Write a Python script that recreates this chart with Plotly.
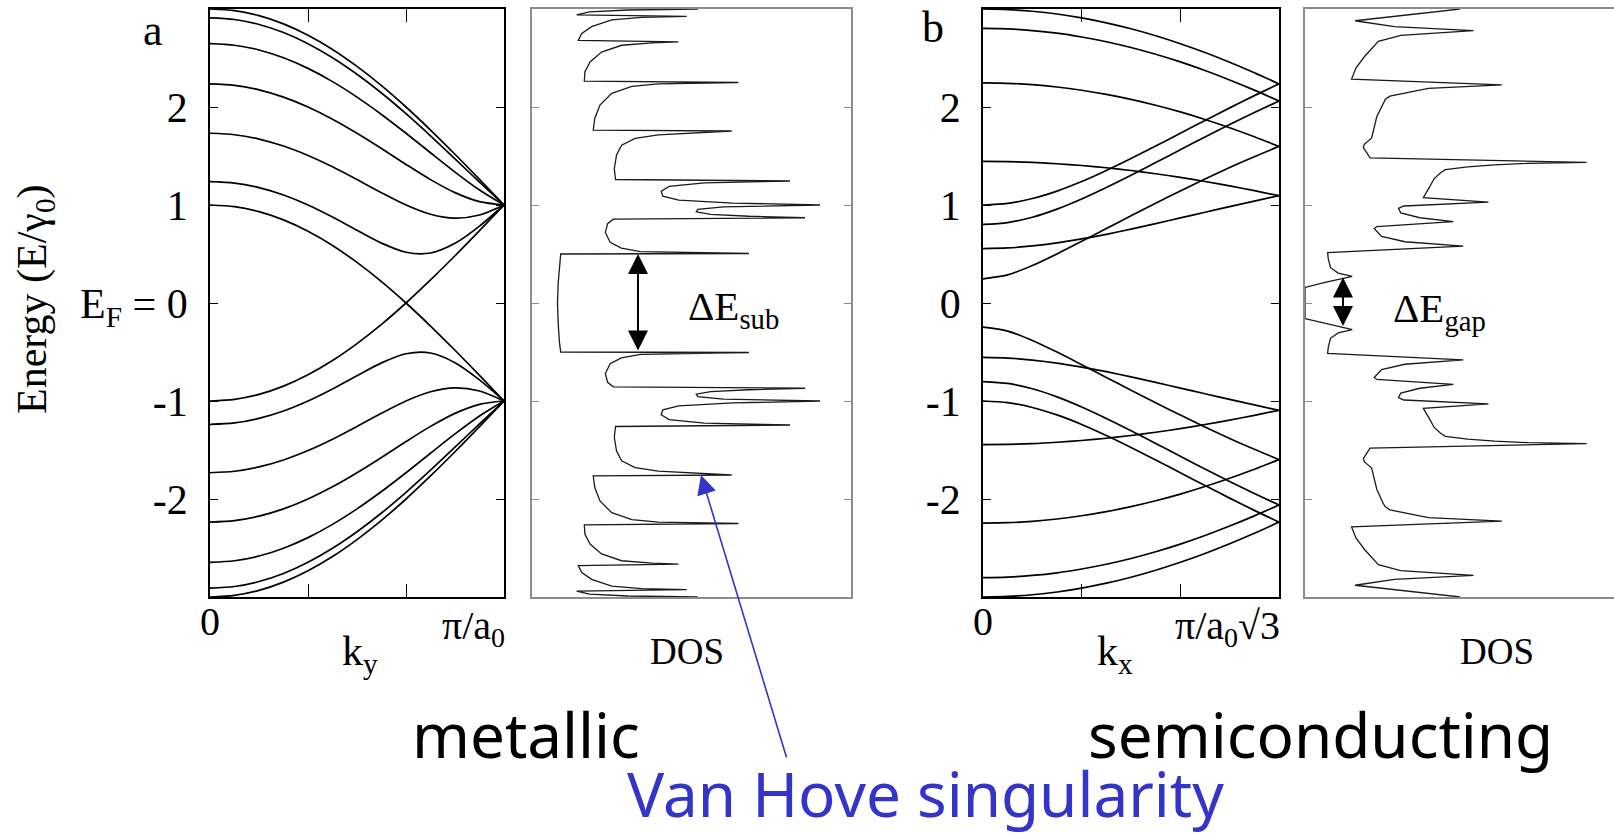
import plotly.graph_objects as go

W, H = 1614, 834

# ---------------- data ----------------
k_frac = [0.0, 0.0833, 0.1667, 0.25, 0.3333, 0.4167, 0.5, 0.5833, 0.6667, 0.75, 0.8333, 0.9167, 1.0]

# panel a (metallic) bands, E/gamma0
a_c1 = [3.000, 2.983, 2.932, 2.848, 2.732, 2.587, 2.414, 2.218, 2.000, 1.765, 1.518, 1.261, 1.000]
a_c2 = [2.909, 2.893, 2.842, 2.760, 2.646, 2.503, 2.334, 2.143, 1.932, 1.706, 1.471, 1.233, 1.000]
a_c3 = [2.646, 2.630, 2.582, 2.502, 2.394, 2.259, 2.101, 1.924, 1.732, 1.533, 1.336, 1.153, 1.000]
a_c4 = [2.236, 2.221, 2.175, 2.101, 2.000, 1.876, 1.732, 1.576, 1.414, 1.259, 1.126, 1.034, 1.000]
a_c5 = [1.732, 1.717, 1.673, 1.602, 1.506, 1.390, 1.259, 1.125, 1.000, 0.906, 0.866, 0.898, 1.000]
a_c6 = [1.239, 1.224, 1.177, 1.102, 1.000, 0.877, 0.742, 0.611, 0.518, 0.510, 0.609, 0.785, 1.000]
a_x1 = [1.000, 0.983, 0.932, 0.848, 0.732, 0.587, 0.414, 0.218, 0.000, -0.235, -0.482, -0.739, -1.000]
a_x2 = [-1.000, -0.983, -0.932, -0.848, -0.732, -0.587, -0.414, -0.218, 0.000, 0.235, 0.482, 0.739, 1.000]
a_v1 = [-3.000, -2.983, -2.932, -2.848, -2.732, -2.587, -2.414, -2.218, -2.000, -1.765, -1.518, -1.261, -1.000]
a_v2 = [-2.909, -2.893, -2.842, -2.760, -2.646, -2.503, -2.334, -2.143, -1.932, -1.706, -1.471, -1.233, -1.000]
a_v3 = [-2.646, -2.630, -2.582, -2.502, -2.394, -2.259, -2.101, -1.924, -1.732, -1.533, -1.336, -1.153, -1.000]
a_v4 = [-2.236, -2.221, -2.175, -2.101, -2.000, -1.876, -1.732, -1.576, -1.414, -1.259, -1.126, -1.034, -1.000]
a_v5 = [-1.732, -1.717, -1.673, -1.602, -1.506, -1.390, -1.259, -1.125, -1.000, -0.906, -0.866, -0.898, -1.000]
a_v6 = [-1.239, -1.224, -1.177, -1.102, -1.000, -0.877, -0.742, -0.611, -0.518, -0.510, -0.609, -0.785, -1.000]

# panel b (semiconducting) bands
b_c0 = [3.000, 2.994, 2.977, 2.949, 2.909, 2.859, 2.798, 2.727, 2.646, 2.556, 2.457, 2.350, 2.236]
b_c1 = [2.802, 2.797, 2.780, 2.753, 2.714, 2.666, 2.607, 2.538, 2.460, 2.372, 2.276, 2.172, 2.061]
b_c2 = [2.247, 2.242, 2.228, 2.204, 2.171, 2.129, 2.078, 2.018, 1.950, 1.873, 1.789, 1.697, 1.598]
b_c3 = [1.445, 1.442, 1.435, 1.421, 1.403, 1.380, 1.352, 1.319, 1.282, 1.240, 1.195, 1.146, 1.095]
b_c4 = [0.555, 0.562, 0.582, 0.613, 0.654, 0.701, 0.754, 0.810, 0.868, 0.926, 0.984, 1.040, 1.095]
b_c5 = [0.247, 0.287, 0.382, 0.501, 0.629, 0.759, 0.890, 1.018, 1.144, 1.265, 1.382, 1.493, 1.598]
b_c6 = [0.802, 0.821, 0.875, 0.958, 1.061, 1.178, 1.303, 1.433, 1.564, 1.694, 1.821, 1.943, 2.061]
b_c7 = [1.000, 1.017, 1.066, 1.142, 1.239, 1.352, 1.474, 1.602, 1.732, 1.863, 1.991, 2.116, 2.236]
b_v0 = [-3.000, -2.994, -2.977, -2.949, -2.909, -2.859, -2.798, -2.727, -2.646, -2.556, -2.457, -2.350, -2.236]
b_v1 = [-2.802, -2.797, -2.780, -2.753, -2.714, -2.666, -2.607, -2.538, -2.460, -2.372, -2.276, -2.172, -2.061]
b_v2 = [-2.247, -2.242, -2.228, -2.204, -2.171, -2.129, -2.078, -2.018, -1.950, -1.873, -1.789, -1.697, -1.598]
b_v3 = [-1.445, -1.442, -1.435, -1.421, -1.403, -1.380, -1.352, -1.319, -1.282, -1.240, -1.195, -1.146, -1.095]
b_v4 = [-0.555, -0.562, -0.582, -0.613, -0.654, -0.701, -0.754, -0.810, -0.868, -0.926, -0.984, -1.040, -1.095]
b_v5 = [-0.247, -0.287, -0.382, -0.501, -0.629, -0.759, -0.890, -1.018, -1.144, -1.265, -1.382, -1.493, -1.598]
b_v6 = [-0.802, -0.821, -0.875, -0.958, -1.061, -1.178, -1.303, -1.433, -1.564, -1.694, -1.821, -1.943, -2.061]
b_v7 = [-1.000, -1.017, -1.066, -1.142, -1.239, -1.352, -1.474, -1.602, -1.732, -1.863, -1.991, -2.116, -2.236]

# density of states, panel a
dos_a_E = [-3.000, -2.990, -2.970, -2.940, -2.925, -2.915, -2.890, -2.820, -2.750, -2.680,
           -2.665, -2.655, -2.630, -2.560, -2.460, -2.360, -2.265, -2.250, -2.235, -2.210,
           -2.140, -2.020, -1.885, -1.765, -1.755, -1.740, -1.715, -1.680, -1.610, -1.510,
           -1.370, -1.260, -1.245, -1.225, -1.190, -1.140, -1.090, -1.050, -1.020, -1.000,
           -0.980, -0.955, -0.930, -0.905, -0.885, -0.870, -0.855, -0.810, -0.720, -0.620,
           -0.560, -0.525, -0.505, -0.500, -0.400, -0.200,
           0.000, 0.200, 0.400, 0.500, 0.505, 0.525, 0.560, 0.620, 0.720, 0.810,
           0.855, 0.870, 0.885, 0.905, 0.930, 0.955, 0.980, 1.000, 1.020, 1.050,
           1.090, 1.140, 1.190, 1.225, 1.245, 1.260, 1.370, 1.510, 1.610, 1.680,
           1.715, 1.740, 1.755, 1.765, 1.885, 2.020, 2.140, 2.210, 2.235, 2.250,
           2.265, 2.360, 2.460, 2.560, 2.630, 2.655, 2.665, 2.680, 2.750, 2.820,
           2.890, 2.915, 2.925, 2.940, 2.970, 2.990, 3.000]
dos_a_D = [5.20, 3.00, 1.80, 1.40, 4.85, 3.44, 2.50, 1.87, 1.56, 1.45,
           4.59, 3.77, 2.81, 2.18, 1.82, 1.66, 1.64, 6.47, 3.96, 3.13,
           2.50, 2.13, 1.97, 1.92, 6.26, 5.40, 3.96, 3.23, 2.81, 2.65,
           2.58, 2.62, 8.09, 5.40, 4.30, 4.05, 4.10, 4.60, 6.30, 9.03,
           6.00, 5.20, 5.15, 5.60, 6.80, 8.56, 2.55, 2.37, 2.30, 2.45,
           2.80, 3.40, 6.80, 0.90, 0.86, 0.82,
           0.80, 0.82, 0.86, 0.90, 6.80, 3.40, 2.80, 2.45, 2.30, 2.37,
           2.55, 8.56, 6.80, 5.60, 5.15, 5.20, 6.00, 9.03, 6.30, 4.60,
           4.10, 4.05, 4.30, 5.40, 8.09, 2.62, 2.58, 2.65, 2.81, 3.23,
           3.96, 5.40, 6.26, 1.92, 1.97, 2.13, 2.50, 3.13, 3.96, 6.47,
           1.64, 1.66, 1.82, 2.18, 2.81, 3.77, 4.59, 1.45, 1.56, 1.87,
           2.50, 3.44, 4.85, 1.40, 1.80, 3.00, 5.20]

# density of states, panel b
dos_b_E = [-3.000, -2.880, -2.820, -2.780, -2.730, -2.670, -2.520, -2.400, -2.285, -2.225,
           -2.190, -2.110, -2.080, -2.050, -1.900, -1.685, -1.620, -1.585, -1.480, -1.435,
           -1.425, -1.410, -1.390, -1.360, -1.330, -1.270, -1.170, -1.075, -1.030, -0.990,
           -0.965, -0.920, -0.870, -0.830, -0.780, -0.760, -0.680, -0.625, -0.580, -0.515,
           -0.450, -0.360, -0.305, -0.272, -0.245, -0.210, -0.160,
           0.000, 0.160, 0.210, 0.245, 0.272, 0.305, 0.360, 0.450, 0.515, 0.580,
           0.625, 0.680, 0.760, 0.780, 0.830, 0.870, 0.920, 0.965, 0.990, 1.030,
           1.075, 1.170, 1.270, 1.330, 1.360, 1.390, 1.410, 1.425, 1.435, 1.480,
           1.585, 1.620, 1.685, 1.900, 2.050, 2.080, 2.110, 2.190, 2.225, 2.285,
           2.400, 2.520, 2.670, 2.730, 2.780, 2.820, 2.880, 3.000]
dos_b_D = [4.86, 1.57, 2.80, 5.28, 3.00, 2.30, 1.88, 1.60, 1.46, 6.17,
           3.87, 2.66, 2.52, 2.46, 2.25, 2.09, 1.86, 1.83, 2.04, 8.83,
           7.00, 5.95, 5.10, 4.40, 4.25, 4.05, 3.88, 3.71, 5.75, 3.10,
           2.93, 3.00, 3.60, 4.65, 2.25, 2.17, 2.40, 3.13, 4.96, 0.71,
           0.73, 0.80, 1.04, 1.48, 1.15, 0.63, 0.00,
           0.00, 0.00, 0.63, 1.15, 1.48, 1.04, 0.80, 0.73, 0.71, 4.96,
           3.13, 2.40, 2.17, 2.25, 4.65, 3.60, 3.00, 2.93, 3.10, 5.75,
           3.71, 3.88, 4.05, 4.25, 4.40, 5.10, 5.95, 7.00, 8.83, 2.04,
           1.83, 1.86, 2.09, 2.25, 2.46, 2.52, 2.66, 3.87, 6.17, 1.46,
           1.60, 1.88, 2.30, 3.00, 5.28, 2.80, 1.57, 4.86]

# ticks and labels
energy_ticks = [-2, -1, 0, 1, 2]
energy_ticktext_a = ["-2", "-1", "E<sub>F</sub> = 0", "1", "2"]
energy_ticktext_b = ["-2", "-1", "0", "1", "2"]
k_ticks = [0, 1 / 3, 2 / 3, 1]
k_label_pos = [0, 1]
k_labels_a = ["0", "π/a<sub>0</sub>"]
k_labels_b = ["0", "π/a<sub>0</sub>√3"]

# ---------------- layout helpers ----------------
def px(xp):
    return xp / W


def py(yp):
    return 1 - yp / H


SERIF = "Liberation Serif"
SANS = "Noto Sans"
BLUE = "#3434C8"
GRAY = "#8c8c8c"

Y_DOM = [py(597), py(9)]
DOS_UNIT = 31.9  # px per DOS unit

fig = go.Figure()


def add_lines(curves, xa, ya):
    for ys in curves:
        fig.add_trace(go.Scatter(x=k_frac, y=ys, mode="lines", xaxis=xa, yaxis=ya,
                                 line=dict(color="black", width=1.7, shape="spline", smoothing=0.8),
                                 hoverinfo="skip", showlegend=False))


add_lines([a_c1, a_c2, a_c3, a_c4, a_c5, a_c6, a_x1, a_x2,
           a_v1, a_v2, a_v3, a_v4, a_v5, a_v6], "x", "y")
add_lines([b_c0, b_c1, b_c2, b_c3, b_c4, b_c5, b_c6, b_c7,
           b_v0, b_v1, b_v2, b_v3, b_v4, b_v5, b_v6, b_v7], "x3", "y3")

fig.add_trace(go.Scatter(x=dos_a_D, y=dos_a_E, mode="lines", xaxis="x2", yaxis="y2",
                         line=dict(color="#1a1a1a", width=1.3), hoverinfo="skip", showlegend=False))
fig.add_trace(go.Scatter(x=dos_b_D, y=dos_b_E, mode="lines", xaxis="x4", yaxis="y4",
                         line=dict(color="#1a1a1a", width=1.3), hoverinfo="skip", showlegend=False))

band_x = dict(range=[0, 1], showline=True, linecolor="black", linewidth=1.6, mirror="ticks",
              ticks="inside", ticklen=13, tickwidth=1.4, tickcolor="black",
              tickvals=k_ticks, showticklabels=False, showgrid=False, zeroline=False)
band_y = dict(range=[-3, 3], domain=Y_DOM, showline=True, linecolor="black", linewidth=1.6,
              mirror="ticks", ticks="inside", ticklen=8, tickwidth=1.4, tickcolor="black",
              tickvals=energy_ticks, showgrid=False, zeroline=False,
              tickfont=dict(family=SERIF, size=42, color="black"), ticklabelstandoff=12)
dos_x = dict(showline=True, linecolor=GRAY, linewidth=2, mirror=True, ticks="",
             showticklabels=False, showgrid=False, zeroline=False)
dos_y = dict(range=[-3, 3], domain=Y_DOM, showline=True, linecolor=GRAY, linewidth=2,
             ticks="inside", ticklen=7, tickwidth=1.2, tickcolor=GRAY, tickvals=energy_ticks,
             showticklabels=False, showgrid=False, zeroline=False)

fig.update_layout(
    width=W, height=H, margin=dict(l=0, r=0, t=0, b=0),
    paper_bgcolor="white", plot_bgcolor="white", showlegend=False,
    xaxis=dict(band_x, domain=[px(210), px(504)], anchor="y"),
    yaxis=dict(band_y, anchor="x", ticktext=energy_ticktext_a),
    xaxis2=dict(dos_x, domain=[px(532), px(851)], range=[0, 10], anchor="y2"),
    yaxis2=dict(dos_y, anchor="x2", mirror="ticks"),
    xaxis3=dict(band_x, domain=[px(983), px(1279)], anchor="y3"),
    yaxis3=dict(band_y, anchor="x3", ticktext=energy_ticktext_b),
    xaxis4=dict(dos_x, domain=[px(1305), 1.0], range=[0, (W - 1305) / DOS_UNIT], anchor="y4"),
    yaxis4=dict(dos_y, anchor="x4", mirror=False),
)

ann = []


def text(t, x, y, size, family=SERIF, color="black", **kw):
    d = dict(text=t, x=px(x), y=py(y), xref="paper", yref="paper", showarrow=False,
             font=dict(family=family, size=size, color=color), xanchor="center", yanchor="middle")
    d.update(kw)
    ann.append(d)


# k-axis tick labels (0 centred on the axis start, end label right-aligned)
for xref, labels in (("x", k_labels_a), ("x3", k_labels_b)):
    ann.append(dict(text=labels[0], x=k_label_pos[0], y=py(621), xref=xref, yref="paper",
                    showarrow=False, xanchor="center", yanchor="middle",
                    font=dict(family=SERIF, size=40, color="black")))
    ann.append(dict(text=labels[1], x=k_label_pos[1], y=py(628), xref=xref, yref="paper",
                    showarrow=False, xanchor="right", yanchor="middle", xshift=3,
                    font=dict(family=SERIF, size=40, color="black")))

text("a", 153, 30, 44)
text("b", 933, 27, 44)
text("Energy (E/γ<sub>0</sub>)", 35, 299, 42, textangle=-90)
text("k<sub>y</sub>", 360, 654, 42)
text("k<sub>x</sub>", 1115, 654, 42)
text("DOS", 687, 651, 37)
text("DOS", 1497, 651, 37)
text("ΔE<sub>sub</sub>", 686, 309, 41, xanchor="left")
text("ΔE<sub>gap</sub>", 1391, 311, 41, xanchor="left")
text("metallic", 526, 734, 62, family=SANS)
text("semiconducting", 1320, 734, 62, family=SANS)
text("Van Hove singularity", 925, 793, 62, family=SANS, color=BLUE)

# arrows
ann.append(dict(text="", x=px(701), y=py(475), xref="paper", yref="paper", showarrow=True,
                ax=86, ay=284, arrowhead=2, arrowsize=2.4, arrowwidth=1.6, arrowcolor=BLUE))
ann.append(dict(text="", x=(638 - 532) / DOS_UNIT, y=0.5, xref="x2", yref="y2",
                ax=(638 - 532) / DOS_UNIT, ay=-0.5, axref="x2", ayref="y2", showarrow=True,
                arrowside="end+start", arrowhead=2, startarrowhead=2, arrowsize=2,
                startarrowsize=2, arrowwidth=2, arrowcolor="black"))
ann.append(dict(text="", x=(1343 - 1305) / DOS_UNIT, y=0.26, xref="x4", yref="y4",
                ax=(1343 - 1305) / DOS_UNIT, ay=-0.25, axref="x4", ayref="y4", showarrow=True,
                arrowside="end+start", arrowhead=2, startarrowhead=2, arrowsize=2,
                startarrowsize=2, arrowwidth=2, arrowcolor="black"))

fig.update_layout(annotations=ann)
fig.write_html("out.html")
